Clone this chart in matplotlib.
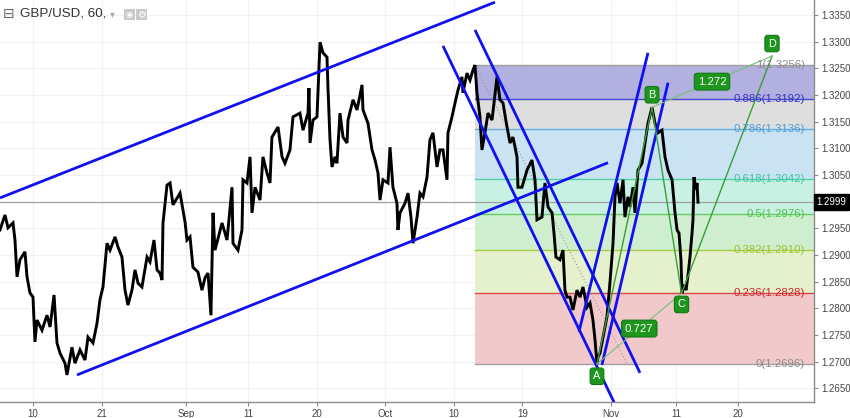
import matplotlib
matplotlib.use("Agg")
import matplotlib.pyplot as plt
import matplotlib.transforms as mtrans
from matplotlib.patches import Rectangle

# ---------------- data ----------------
# x = trading days since 10 Aug 2018, y = GBP/USD price (hourly chart, traced)
days = [-3.37, -2.86, -2.55, -2.04, -1.84, -1.63, -1.33, -0.82, -0.61, -0.31, 0.00, 0.20, 0.41, 0.92,
        1.43, 1.74, 2.15, 2.45, 2.76, 3.27, 3.47, 3.98, 4.29, 4.80, 5.31, 5.62, 6.13, 6.54, 6.84,
        7.15, 7.56, 7.87, 8.38, 8.68, 9.09, 9.40, 9.70, 10.11, 10.42, 10.73, 11.13, 11.65, 11.95,
        12.36, 12.67, 12.97, 13.18, 13.28, 13.69, 14.00, 14.30, 15.02, 15.53, 15.73, 16.04, 16.34,
        16.85, 17.26, 17.57, 17.88, 18.18, 18.39, 18.59, 19.31, 19.82, 20.33, 20.43, 20.94, 21.35,
        21.45, 21.86, 22.17, 22.37, 22.68, 23.19, 23.49, 23.90, 24.21, 24.41, 25.03, 25.44, 25.74,
        26.25, 26.56, 27.27, 27.58, 28.09, 28.19, 28.30, 28.60, 29.01, 29.32, 29.62, 30.03, 30.13,
        30.34, 30.54, 30.85, 31.05, 31.36, 31.67, 32.08, 32.18, 32.69, 33.10, 33.61, 33.71, 34.22,
        34.63, 34.94, 35.24, 35.45, 35.75, 36.26, 36.47, 36.77, 37.18, 37.28, 37.49, 38.00, 38.31,
        38.61, 38.82, 39.23, 39.53, 39.84, 40.25, 40.55, 40.86, 41.27, 41.57, 41.88, 42.29, 42.39,
        42.80, 43.11, 43.41, 43.82, 43.92, 44.33, 44.64, 44.95, 45.15, 45.35, 45.66, 45.86, 46.17,
        46.48, 46.89, 47.40, 47.70, 48.01, 48.42, 48.73, 49.03, 49.44, 49.54, 49.95, 50.46, 50.97,
        51.28, 51.48, 51.99, 52.30, 52.61, 53.02, 53.22, 53.42, 53.83, 54.14, 54.34, 54.55, 54.85,
        55.16, 55.57, 55.88, 56.18, 56.59, 56.90, 57.20, 57.41, 57.61, 57.72, 57.92, 58.23, 58.63,
        58.94, 59.25, 59.45, 59.66, 59.96, 60.27, 60.47, 60.78, 60.98, 61.29, 61.49, 61.80, 62.21,
        62.52, 62.82, 63.23, 63.54, 63.84, 64.25, 64.56, 64.87, 65.28, 65.58, 65.79, 65.99, 66.19,
        66.30, 66.50, 66.71, 66.91, 67.11, 67.32, 67.42, 67.52, 67.73, 67.83, 67.93]
prices = [1.2947, 1.2975, 1.2951, 1.2960, 1.2928, 1.2859, 1.2891, 1.2906, 1.2859, 1.2829, 1.2821, 1.2737, 1.2778, 1.2759,
          1.2787, 1.2765, 1.2825, 1.2735, 1.2716, 1.2697, 1.2675, 1.2727, 1.2697, 1.2722, 1.2703, 1.2746, 1.2735, 1.2772, 1.2816,
          1.2840, 1.2922, 1.2909, 1.2934, 1.2915, 1.2896, 1.2834, 1.2806, 1.2834, 1.2872, 1.2847, 1.2840, 1.2896, 1.2887,
          1.2928, 1.2872, 1.2866, 1.2853, 1.2960, 1.3031, 1.3035, 1.2994, 1.3016, 1.2962, 1.2928, 1.2934, 1.2877,
          1.2868, 1.2834, 1.2857, 1.2866, 1.2787, 1.2979, 1.2909, 1.2960, 1.2928, 1.3027, 1.2922, 1.2909, 1.2947,
          1.3041, 1.3035, 1.3084, 1.2979, 1.3027, 1.3003, 1.3084, 1.3054, 1.3035, 1.3121, 1.3140, 1.3084, 1.3072,
          1.3097, 1.3159, 1.3166, 1.3134, 1.3166, 1.3213, 1.3110, 1.3153, 1.3159, 1.3299, 1.3279, 1.3271, 1.3215,
          1.3116, 1.3065, 1.3084, 1.3072, 1.3166, 1.3121, 1.3110, 1.3153, 1.3191, 1.3172, 1.3219, 1.3172, 1.3147,
          1.3097, 1.3078, 1.3054, 1.3003, 1.3041, 1.3035, 1.3102, 1.3027, 1.2997, 1.2947, 1.2979, 1.2997, 1.3016,
          1.2971, 1.2922, 1.2971, 1.3016, 1.3009, 1.3046, 1.3116, 1.3129, 1.3065, 1.3097, 1.3097, 1.3041, 1.3129,
          1.3159, 1.3185, 1.3209, 1.3234, 1.3204, 1.3241, 1.3228, 1.3247, 1.3256, 1.3204, 1.3159, 1.3097, 1.3129,
          1.3166, 1.3153, 1.3234, 1.3191, 1.3185, 1.3140, 1.3110, 1.3121, 1.3084, 1.3027, 1.3027, 1.3059, 1.3078,
          1.3041, 1.2966, 1.2971, 1.3035, 1.2990, 1.2979, 1.2941, 1.2896, 1.2891, 1.2909, 1.2834, 1.2821, 1.2821,
          1.2797, 1.2834, 1.2821, 1.2840, 1.2802, 1.2810, 1.2778, 1.2741, 1.2696, 1.2709, 1.2716, 1.2746, 1.2784,
          1.2849, 1.2922, 1.3009, 1.3035, 1.2997, 1.3041, 1.2971, 1.3009, 1.2990, 1.3027, 1.2979, 1.3059, 1.3072,
          1.3110, 1.3147, 1.3177, 1.3147, 1.3129, 1.3134, 1.3084, 1.3059, 1.3041, 1.2979, 1.2947, 1.2941, 1.2891,
          1.2828, 1.2844, 1.2834, 1.2862, 1.2896, 1.2941, 1.2966, 1.3046, 1.3022, 1.3035, 1.2999]

last_price = 1.2999

tick_days = [0, 7, 15.65, 22, 29, 36, 43, 50, 59, 65.7, 72]
tick_labels = ['10', '21', 'Sep', '11', '20', 'Oct', '10', '19', 'Nov', '11', '20']
price_ticks = [1.2650, 1.2700, 1.2750, 1.2800, 1.2850, 1.2900, 1.2950, 1.3000,
               1.3050, 1.3100, 1.3150, 1.3200, 1.3250, 1.3300, 1.3350]

# blue trend lines (start/end in days, prices)
chan_upper = ([-3.37, 47.19], [1.3007, 1.3374])
chan_lower = ([4.49, 58.74], [1.2675, 1.3073])
down_1 = ([41.88, 59.35], [1.3292, 1.2624])
down_2 = ([45.15, 62.00], [1.3322, 1.2679])
up_1 = ([55.77, 62.82], [1.2756, 1.3279])
up_2 = ([58.12, 64.87], [1.2694, 1.3223])

# fibonacci retracement
fib_start = 45.15
fib_ratios = [1, 0.886, 0.786, 0.618, 0.5, 0.382, 0.236, 0]
fib_prices = [1.3256, 1.3192, 1.3136, 1.3042, 1.2976, 1.2910, 1.2828, 1.2696]
fib_trend = ([45.15, 60.68], [1.3256, 1.2696])

# ABCD pattern
abcd_names = ['A', 'B', 'C', 'D']
abcd_days = [57.61, 63.23, 66.25, 75.49]
abcd_prices = [1.2696, 1.3177, 1.2828, 1.3273]
ratio_labels = ['0.727', '1.272']

# ---------------- styling ----------------
FONT = 'Liberation Sans'
fib_line_cols = ['#a0a0a0', '#4a4ad0', '#66aee0', '#50d0a8', '#66cc66', '#a8cc44', '#d84848', '#a0a0a0']
fib_text_cols = ['#8c8c8c', '#3232c4', '#4a9fd6', '#3cc89a', '#50c450', '#9cc230', '#cc2a2a', '#8c8c8c']
fib_fill_cols = ['#b2b0df', '#dedede', '#c9e3f3', '#c8f1e3', '#cfeecf', '#e5f1cd', '#f1c9cb']
BLUE = '#1010f0'
GREEN = '#3a9e3a'
GREEN_L = '#78c078'
BOX_G = '#1e961e'

W, H = 850, 418
fig = plt.figure(figsize=(W / 100, H / 100), dpi=100)
fig.patch.set_facecolor('white')
ax = fig.add_axes([0, 16 / H, 814 / W, 402 / H])
ax.set_facecolor('white')

x_lo, x_hi = -3.37, 79.78
ax.set_xlim(x_lo, x_hi)
ax.set_ylim(1.26243, 1.33781)

# grid / ticks (the 1.3000 label is hidden under the last-price tag)
ax.set_xticks(tick_days)
ax.set_xticklabels(tick_labels, fontfamily=FONT, fontsize=7, color='#444444')
ax.set_yticks(price_ticks)
ax.set_yticklabels(['' if abs(p - last_price) < 0.002 else '%.4f' % p for p in price_ticks],
                   fontfamily=FONT, fontsize=7, color='#444444')
ax.yaxis.tick_right()
ax.tick_params(axis='both', length=3, width=0.8, color='#888888', pad=2)
ax.grid(True, color='#f1f1f4', lw=0.8, zorder=0)
ax.set_axisbelow(True)
for s in ['top', 'left']:
    ax.spines[s].set_visible(False)
for s in ['right', 'bottom']:
    ax.spines[s].set_color('#8c8c8c')
    ax.spines[s].set_linewidth(1.0)

# fib zones
for i in range(len(fib_prices) - 1):
    ax.fill_between([fib_start, x_hi], fib_prices[i + 1], fib_prices[i],
                    color=fib_fill_cols[i], lw=0, zorder=1)
for r, p, lc, tc in zip(fib_ratios, fib_prices, fib_line_cols, fib_text_cols):
    ax.plot([fib_start, x_hi], [p, p], color=lc, lw=1.0, zorder=1.5)
    ax.text(78.86, p, '%s(%.4f)' % (('%g' % r), p), color=tc, fontsize=8.2,
            fontfamily=FONT, ha='right', va='center', zorder=6)
ax.plot(fib_trend[0], fib_trend[1], color='#999999', lw=0.8, ls=(0, (1, 2)), zorder=2)

# last price line
ax.axhline(last_price, color='#a0a0a0', lw=0.9, zorder=2)

# price path
ax.plot(days, prices, color='black', lw=2.1, zorder=3, solid_joinstyle='miter')

# blue lines
for ln in [chan_upper, chan_lower, down_1, down_2, up_1, up_2]:
    ax.plot(ln[0], ln[1], color=BLUE, lw=2.0, zorder=4, solid_capstyle='butt')

# ABCD pattern
ax.plot(abcd_days, abcd_prices, color=GREEN, lw=1.0, zorder=5)
ax.plot([abcd_days[0], abcd_days[2]], [abcd_prices[0], abcd_prices[2]], color=GREEN_L, lw=0.8, zorder=5)
ax.plot([abcd_days[1], abcd_days[3]], [abcd_prices[1], abcd_prices[3]], color=GREEN_L, lw=0.8, zorder=5)

box = dict(boxstyle='round,pad=0.3,rounding_size=0.25', fc=BOX_G, ec='#127a12', lw=0.8)
offsets = [-9, 9, -8, 9]
for name, d, p, off in zip(abcd_names, abcd_days, abcd_prices, offsets):
    ax.annotate(name, (d, p), xytext=(0, off), textcoords='offset points',
                ha='center', va='center', color='white', fontsize=7.8, fontfamily=FONT,
                bbox=box, zorder=7, annotation_clip=False)
mid_ac = ((abcd_days[0] + abcd_days[2]) / 2, (abcd_prices[0] + abcd_prices[2]) / 2)
mid_bd = ((abcd_days[1] + abcd_days[3]) / 2, (abcd_prices[1] + abcd_prices[3]) / 2)
for txt, (d, p) in zip(ratio_labels, [mid_ac, mid_bd]):
    ax.text(d, p, txt, ha='center', va='center', color='white', fontsize=8.2,
            fontfamily=FONT, bbox=box, zorder=7)

# last price tag on axis
trans = mtrans.blended_transform_factory(ax.transAxes, ax.transData)
ax.text(1.003, last_price, '%.4f' % last_price, transform=trans, ha='left', va='center',
        color='white', fontsize=7, fontfamily=FONT, clip_on=False, zorder=8,
        bbox=dict(boxstyle='square,pad=0.3', fc='black', ec='black'))

# header
fig.text(3 / W, 1 - 14 / H, '\u229f', fontsize=10, color='#666666', va='center', ha='left',
         fontfamily='DejaVu Sans')
fig.text(20 / W, 1 - 14 / H, 'GBP/USD, 60,', fontsize=9.6, color='#333333', va='center',
         ha='left', fontfamily=FONT)
fig.text(110 / W, 1 - 14 / H, '\u25be', fontsize=7, color='#aaaaaa', va='center', ha='left',
         fontfamily='DejaVu Sans')
for x0 in [124, 136]:
    fig.patches.append(Rectangle((x0 / W, 1 - 20 / H), 11 / W, 11 / H, transform=fig.transFigure,
                                 fc='#c9c9c9', ec='none'))
fig.text(129.5 / W, 1 - 14.5 / H, '\u25c9', fontsize=6, color='white', va='center', ha='center',
         fontfamily='DejaVu Sans')
fig.text(141.5 / W, 1 - 14.5 / H, '\u2699', fontsize=7, color='white', va='center', ha='center',
         fontfamily='DejaVu Sans')

fig.savefig('out.png', dpi=100, facecolor='white')
